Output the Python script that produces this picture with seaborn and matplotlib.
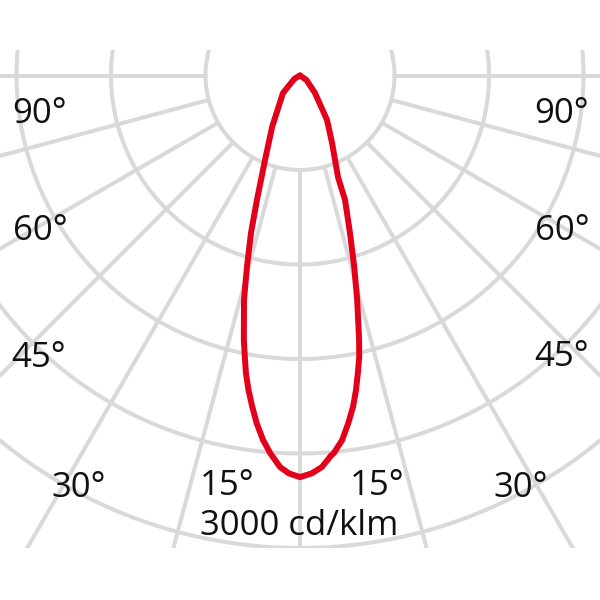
import numpy as np
import pandas as pd
import seaborn as sns
import matplotlib.pyplot as plt
from matplotlib.patches import Rectangle

# Light distribution curve (gamma angle in degrees from nadir, intensity in cd/klm)
gamma_right = [0, 1.7, 3.2, 4.7, 5.1, 6.6, 7.9, 9.1, 10.1, 11.0, 11.9, 12.6, 14.3, 15.8, 17.6,
               19.9, 20.5, 25.4, 31.3, 40.6, 55, 90]
cd_right = [2550, 2527, 2490, 2420, 2408, 2330, 2229, 2130, 2028, 1925, 1824, 1720, 1470, 1265, 1050,
            840, 690, 475, 330, 146, 50, 0]
gamma_left = [0, 1.6, 2.9, 4.5, 5.8, 7.1, 8.2, 9.3, 10.3, 11.1, 12.0, 14.0, 15.5, 17.3,
              19.1, 22.5, 28.5, 44.2, 60, 90]
cd_left = [2550, 2527, 2490, 2406, 2325, 2225, 2125, 2024, 1920, 1820, 1715, 1470, 1260, 1045,
           835, 580, 370, 155, 40, 0]

# Polar grid
ring_values = [600, 1200, 1800, 2400, 3000]
spoke_angles = list(range(-90, 91, 15))

# Labels
angle_labels = ["90°", "60°", "45°", "30°", "15°", "15°", "30°", "45°", "60°", "90°"]
scale_label = "3000 cd/klm"

sns.set_theme(style="white")
plt.rcParams["font.family"] = ["Open Sans", "DejaVu Sans"]

# pixel scale: 3000 cd/klm ring has a radius of 472.5 px
s = 3000 / 472.5
cx, cy = 300, 75.5

fig = plt.figure(figsize=(6, 6), dpi=100)
ax = fig.add_axes([0, 0, 1, 1])
ax.set_xlim(-cx * s, (600 - cx) * s)
ax.set_ylim(-(600 - cy) * s, cy * s)
ax.set_axis_off()

clip = Rectangle((-cx * s, -3000), 600 * s, (472.5 + 25.5) * s, transform=ax.transData)

grid_kw = dict(color="#d9d9d9", lw=2.9, solid_capstyle="butt")
t = np.linspace(0, 2 * np.pi, 721)
for r in ring_values:
    ln, = ax.plot(r * np.cos(t), r * np.sin(t), **grid_kw)
    ln.set_clip_path(clip)
for a in spoke_angles:
    g = np.radians(a)
    ln, = ax.plot([ring_values[0] * np.sin(g), 8000 * np.sin(g)],
                  [-ring_values[0] * np.cos(g), -8000 * np.cos(g)], **grid_kw)
    ln.set_clip_path(clip)

# curve: top of left half down to nadir, then up the right half
gl = np.radians(gamma_left[::-1])
gr = np.radians(gamma_right[1:])
il = np.array(cd_left[::-1], dtype=float)
ir = np.array(cd_right[1:], dtype=float)
curve = pd.DataFrame({
    "x": np.concatenate([-il * np.sin(gl), ir * np.sin(gr)]),
    "y": np.concatenate([-il * np.cos(gl), -ir * np.cos(gr)]),
})
sns.lineplot(data=curve, x="x", y="y", sort=False, estimator=None, ax=ax,
             color="#e2001a", lw=4.3, solid_joinstyle="round", solid_capstyle="round")

# label positions in pixels (centre x, baseline y)
label_pos = [(40, 123), (40, 240), (39, 367), (79, 497), (227, 495),
             (377, 495), (521, 497), (562, 366), (562, 240), (562, 123)]
for txt, (px, py) in zip(angle_labels, label_pos):
    fig.text(px / 600, 1 - py / 600, txt, ha="center", va="baseline", fontsize=25, color="#111111")
fig.text(299 / 600, 1 - 535 / 600, scale_label, ha="center", va="baseline", fontsize=25, color="#111111")

fig.savefig("out.png", dpi=100)
